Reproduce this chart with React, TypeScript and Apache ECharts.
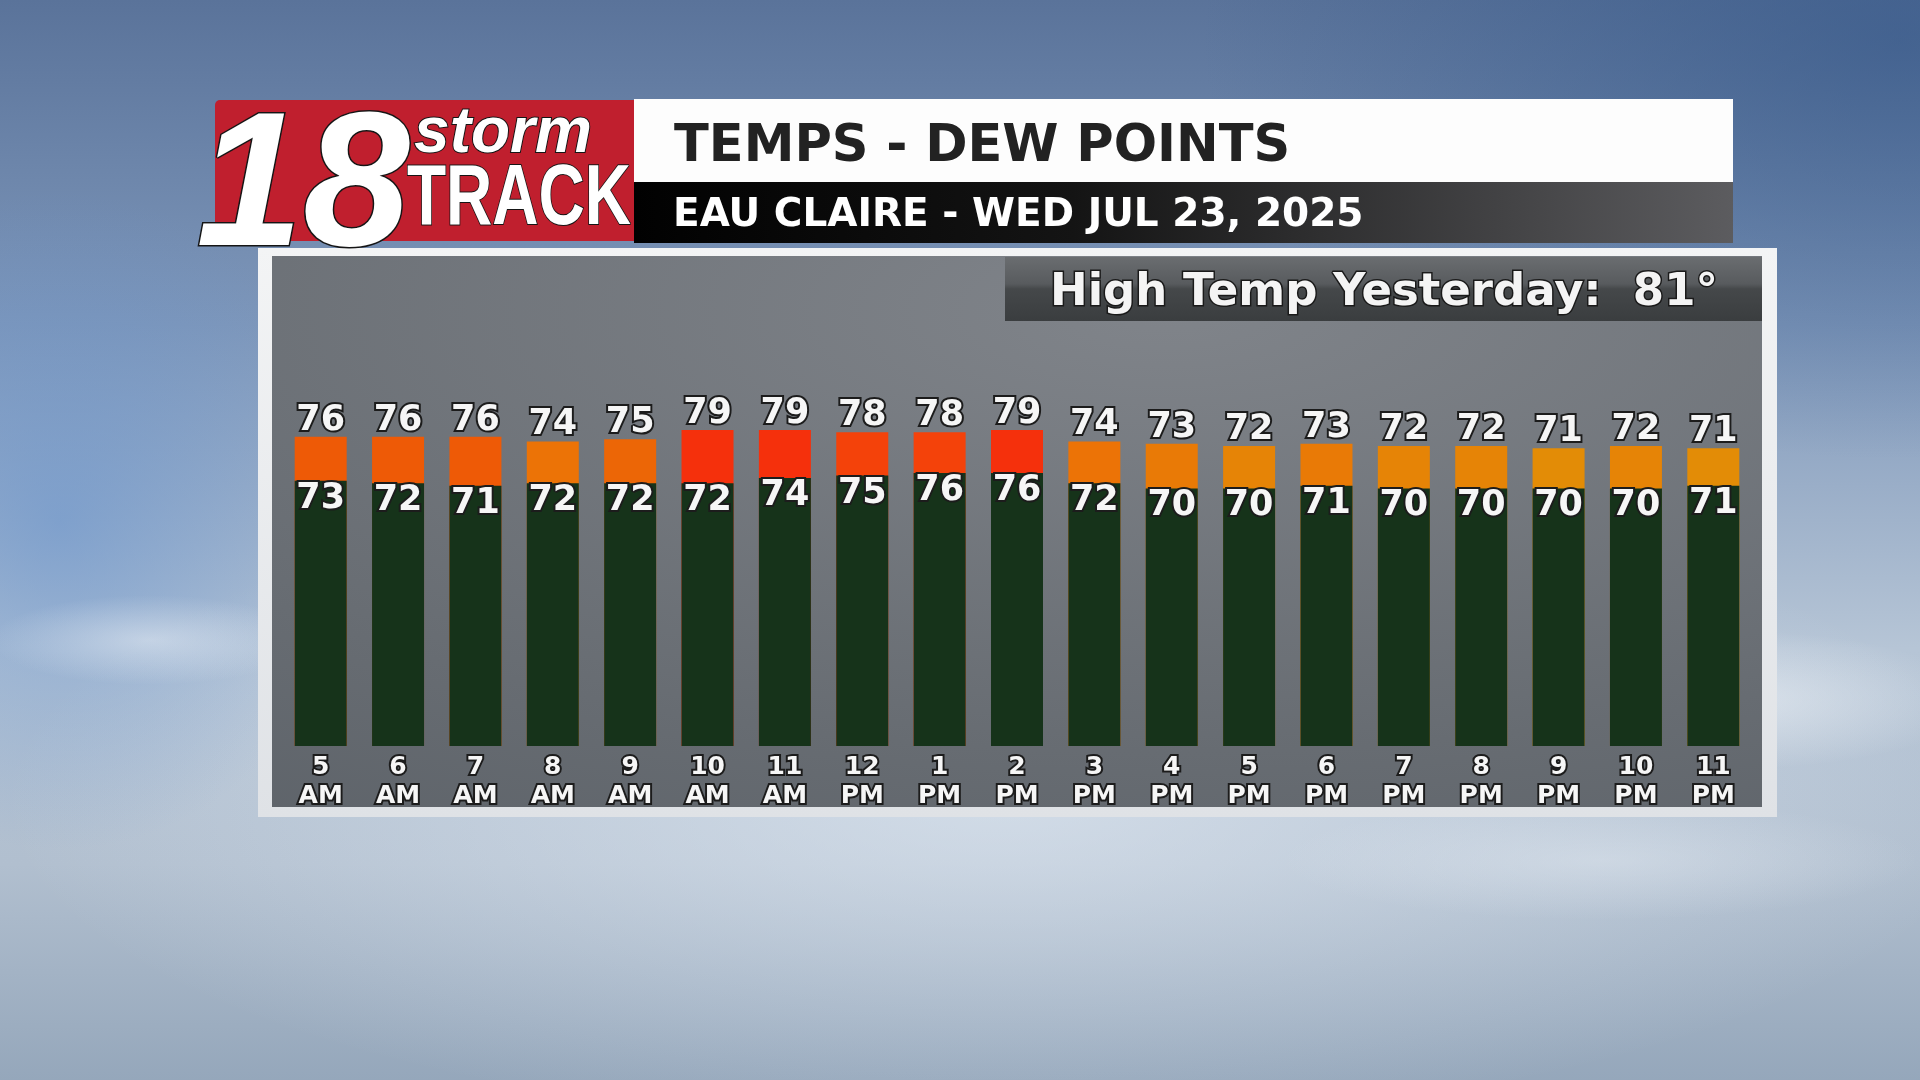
import React, { useEffect, useRef } from 'react';
import * as echarts from 'echarts';

const HOURS = ['5', '6', '7', '8', '9', '10', '11', '12', '1', '2', '3', '4', '5', '6', '7', '8', '9', '10', '11'];
const PERIODS = ['AM', 'AM', 'AM', 'AM', 'AM', 'AM', 'AM', 'PM', 'PM', 'PM', 'PM', 'PM', 'PM', 'PM', 'PM', 'PM', 'PM', 'PM', 'PM'];
const TEMPS = [76, 76, 76, 74, 75, 79, 79, 78, 78, 79, 74, 73, 72, 73, 72, 72, 71, 72, 71];
const DEWPOINTS = [73, 72, 71, 72, 72, 72, 74, 75, 76, 76, 72, 70, 70, 71, 70, 70, 70, 70, 71];
const TITLE = 'TEMPS - DEW POINTS';
const SUBTITLE = 'EAU CLAIRE - WED JUL 23, 2025';
const HIGH_YESTERDAY = 81;

const TEMP_COLORS: Record<number, string> = {
  70: '#e09206', 71: '#e38c06', 72: '#e68406', 73: '#e97a06', 74: '#ec7306',
  75: '#ec6606', 76: '#ee5a06', 77: '#f14d08', 78: '#f4420a', 79: '#f5300c', 80: '#f52a0c',
};
const tempColor = (v: number) => TEMP_COLORS[v] || '#ee5a06';

const FONT = '"DejaVu Sans", "Liberation Sans", sans-serif';

export default function App() {
  const ref = useRef<HTMLDivElement>(null);
  useEffect(() => {
    if (!ref.current) return;
    const chart = echarts.init(ref.current, undefined, { renderer: 'svg' });
    const categories = HOURS.map((h, i) => `${h}\n${PERIODS[i]}`);
    const labelBase = {
      color: '#f6f6f6',
      fontFamily: FONT,
      fontWeight: 'bold' as const,
      textBorderColor: '#1c1c1c',
      textBorderWidth: 4,
    };
    const radial = (c0: string, c1: string) => ({
      type: 'radial', x: 0.5, y: 0.5, r: 0.5,
      colorStops: [{ offset: 0, color: c0 }, { offset: 1, color: c1 }],
    });
    const option: any = {
      animation: false,
      graphic: [
        // page background
        {
          type: 'rect', z: -100, shape: { x: 0, y: 0, width: 1920, height: 1080 },
          style: {
            fill: {
              type: 'linear', x: 0, y: 0, x2: 0, y2: 1,
              colorStops: [
                { offset: 0, color: '#5a739a' },
                { offset: 0.3, color: '#7e97ba' },
                { offset: 0.6, color: '#b6c5d6' },
                { offset: 0.8, color: '#b1bfcf' },
                { offset: 1, color: '#95a7bb' },
              ],
            },
          },
        },
        { type: 'ellipse', z: -99, shape: { cx: 1000, cy: 800, rx: 1000, ry: 330 }, style: { fill: radial('rgba(235,242,250,0.55)', 'rgba(235,242,250,0)') } },
        { type: 'ellipse', z: -99, shape: { cx: 1900, cy: 40, rx: 700, ry: 420 }, style: { fill: radial('rgba(50,85,135,0.6)', 'rgba(50,85,135,0)') } },
        { type: 'ellipse', z: -99, shape: { cx: 60, cy: 520, rx: 300, ry: 330 }, style: { fill: radial('rgba(100,145,205,0.55)', 'rgba(100,145,205,0)') } },
        { type: 'ellipse', z: -98, shape: { cx: 1720, cy: 700, rx: 260, ry: 70 }, style: { fill: radial('rgba(240,244,248,0.6)', 'rgba(240,244,248,0)') } },
        { type: 'ellipse', z: -98, shape: { cx: 150, cy: 640, rx: 160, ry: 45 }, style: { fill: radial('rgba(235,240,246,0.5)', 'rgba(235,240,246,0)') } },
        { type: 'ellipse', z: -98, shape: { cx: 1600, cy: 860, rx: 320, ry: 60 }, style: { fill: radial('rgba(225,232,240,0.45)', 'rgba(225,232,240,0)') } },
        // header: white & dark bands
        { type: 'rect', z: -50, shape: { x: 634, y: 99, width: 1099, height: 83 }, style: { fill: '#fdfdfd' } },
        {
          type: 'rect', z: -50, shape: { x: 634, y: 182, width: 1099, height: 61 },
          style: {
            fill: {
              type: 'linear', x: 0, y: 0, x2: 1, y2: 0,
              colorStops: [
                { offset: 0, color: '#010101' },
                { offset: 0.4, color: '#141414' },
                { offset: 1, color: '#5c5c5f' },
              ],
            },
          },
        },
        {
          type: 'text', z: -40, x: 674, y: 143,
          style: { text: TITLE, fill: '#222222', fontFamily: FONT, fontWeight: 'bold', fontSize: 51, align: 'left', verticalAlign: 'middle' },
        },
        {
          type: 'text', z: -40, x: 673, y: 212,
          style: { text: SUBTITLE, fill: '#ffffff', fontFamily: FONT, fontWeight: 'bold', fontSize: 39, align: 'left', verticalAlign: 'middle' },
        },
        // logo
        { type: 'rect', z: -50, shape: { x: 215, y: 100, width: 419, height: 141, r: [5, 0, 0, 5] }, style: { fill: '#c01f2e' } },
        {
          type: 'text', z: -40, x: 303, y: 178,
          style: {
            text: '18', fill: '#ffffff', stroke: '#151515', lineWidth: 3,
            fontFamily: '"Liberation Sans", sans-serif', fontWeight: 'bold', fontStyle: 'italic', fontSize: 192,
            align: 'center', verticalAlign: 'middle',
          },
        },
        {
          type: 'text', z: -40, x: 503, y: 130,
          style: {
            text: 'storm', fill: '#ffffff', stroke: '#151515', lineWidth: 2,
            fontFamily: '"Liberation Sans", sans-serif', fontWeight: 'bold', fontStyle: 'italic', fontSize: 64,
            align: 'center', verticalAlign: 'middle',
          },
        },
        {
          type: 'text', z: -40, x: 519, y: 194, scaleX: 0.745,
          style: {
            text: 'TRACK', fill: '#ffffff', stroke: '#151515', lineWidth: 2,
            fontFamily: '"Liberation Sans", sans-serif', fontWeight: 'bold', fontSize: 86,
            align: 'center', verticalAlign: 'middle',
          },
        },
        // chart frame
        {
          type: 'rect', z: -50, shape: { x: 258, y: 248, width: 1519, height: 569 },
          style: {
            fill: {
              type: 'linear', x: 0, y: 0, x2: 0, y2: 1,
              colorStops: [
                { offset: 0, color: '#f3f4f5' },
                { offset: 1, color: '#dfe2e6' },
              ],
            },
          },
        },
        {
          type: 'rect', z: -49, shape: { x: 272, y: 256, width: 1490, height: 551 },
          style: {
            fill: {
              type: 'radial', x: 0.6, y: 0.1, r: 1.6,
              colorStops: [
                { offset: 0, color: '#80848a' },
                { offset: 0.5, color: '#676c72' },
                { offset: 1, color: '#50565d' },
              ],
            },
          },
        },
        // high temp yesterday box
        {
          type: 'rect', z: -45, shape: { x: 1005, y: 257, width: 757, height: 64 },
          style: {
            fill: {
              type: 'linear', x: 0, y: 0, x2: 0, y2: 1,
              colorStops: [
                { offset: 0, color: '#6a6d70' },
                { offset: 0.42, color: '#585b5e' },
                { offset: 0.5, color: '#45484a' },
                { offset: 1, color: '#3a3d3f' },
              ],
            },
          },
        },
        {
          type: 'text', z: -40, x: 1384, y: 289,
          style: {
            text: `High Temp Yesterday:  ${HIGH_YESTERDAY}°`, fill: '#f4f4f4', stroke: '#1a1a1a', lineWidth: 3,
            fontFamily: FONT, fontWeight: 'bold', fontSize: 45, align: 'center', verticalAlign: 'middle',
          },
        },
      ],
      grid: { left: 282, width: 1470, top: 296, height: 450, containLabel: false },
      xAxis: {
        type: 'category',
        data: categories,
        axisLine: { show: false },
        axisTick: { show: false },
        splitLine: { show: false },
        axisLabel: {
          ...labelBase,
          interval: 0,
          fontSize: 25,
          lineHeight: 29,
          margin: 5,
          textBorderWidth: 4,
        },
      },
      yAxis: [
        { type: 'value', min: -59, max: 137.5, startValue: -59, show: false, splitLine: { show: false } },
        { type: 'value', min: -29.7, max: 144.5, startValue: -29.7, show: false, splitLine: { show: false } },
      ],
      series: [
        {
          name: 'Temperature',
          type: 'bar',
          yAxisIndex: 0,
          data: TEMPS,
          barWidth: 52,
          barGap: '-100%',
          itemStyle: { color: (p: any) => tempColor(p.value) },
          label: {
            ...labelBase,
            show: true,
            position: 'top',
            distance: 1,
            fontSize: 35,
            lineHeight: 36,
          },
        },
        {
          name: 'Dew Point',
          type: 'bar',
          yAxisIndex: 1,
          data: DEWPOINTS,
          barWidth: 52,
          barGap: '-100%',
          itemStyle: { color: '#16331a' },
          label: {
            ...labelBase,
            show: true,
            position: 'insideTop',
            distance: 0,
            offset: [0, -3],
            fontSize: 35,
            lineHeight: 36,
          },
        },
      ],
    };
    chart.setOption(option);
    return () => chart.dispose();
  }, []);
  return (
    <div
      ref={ref}
      style={{ position: 'fixed', left: 0, top: 0, width: 1920, height: 1080 }}
    />
  );
}
